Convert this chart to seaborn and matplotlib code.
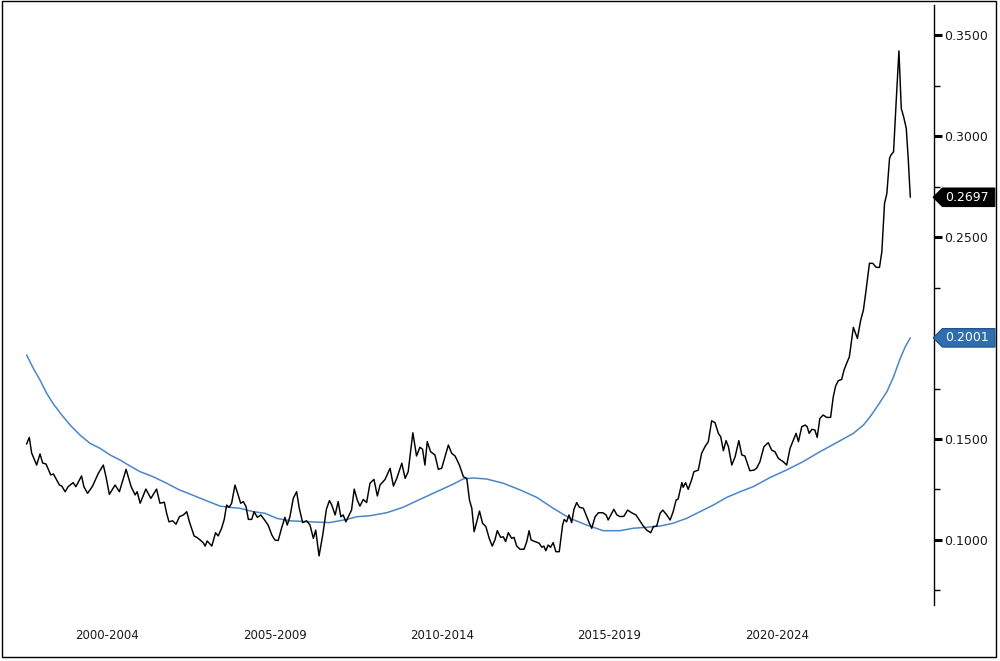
import pandas as pd
import seaborn as sns
from matplotlib import pyplot as plt
from matplotlib import transforms
from matplotlib.patches import Rectangle
from matplotlib.path import Path
from matplotlib.ticker import MultipleLocator, FormatStrFormatter

# black series, decimal years
black_years = [2000.10, 2000.18, 2000.25, 2000.40, 2000.50, 2000.58, 2000.68, 2000.82, 2000.90, 2001.08,
               2001.15, 2001.25, 2001.34, 2001.49, 2001.57, 2001.74, 2001.81, 2001.92, 2002.07, 2002.24,
               2002.39, 2002.47, 2002.57, 2002.74, 2002.87, 2003.07, 2003.22, 2003.34, 2003.40, 2003.49,
               2003.66, 2003.81, 2003.98, 2004.08, 2004.21, 2004.28, 2004.35, 2004.46, 2004.56, 2004.66,
               2004.78, 2004.88, 2004.96, 2005.10, 2005.18, 2005.28, 2005.37, 2005.43, 2005.49, 2005.63,
               2005.74, 2005.82, 2005.92, 2006.00, 2006.07, 2006.15, 2006.22, 2006.32, 2006.40, 2006.49,
               2006.57, 2006.65, 2006.72, 2006.82, 2006.89, 2006.99, 2007.09, 2007.19, 2007.31, 2007.42,
               2007.51, 2007.61, 2007.71, 2007.81, 2007.88, 2007.96, 2008.06, 2008.16, 2008.24, 2008.34,
               2008.46, 2008.56, 2008.66, 2008.73, 2008.83, 2008.94, 2009.05, 2009.14, 2009.21, 2009.31,
               2009.40, 2009.48, 2009.55, 2009.63, 2009.73, 2009.80, 2009.88, 2009.97, 2010.05, 2010.15,
               2010.25, 2010.35, 2010.47, 2010.57, 2010.65, 2010.80, 2010.95, 2011.05, 2011.15, 2011.30,
               2011.40, 2011.49, 2011.63, 2011.74, 2011.84, 2011.92, 2011.99, 2012.06, 2012.16, 2012.29,
               2012.39, 2012.49, 2012.59, 2012.69, 2012.79, 2012.89, 2013.02, 2013.14, 2013.24, 2013.32,
               2013.39, 2013.46, 2013.55, 2013.62, 2013.71, 2013.81, 2013.91, 2014.00, 2014.08, 2014.15,
               2014.25, 2014.33, 2014.40, 2014.48, 2014.58, 2014.65, 2014.73, 2014.83, 2014.95, 2015.03,
               2015.10, 2015.16, 2015.28, 2015.40, 2015.48, 2015.54, 2015.60, 2015.67, 2015.74, 2015.82,
               2015.90, 2016.00, 2016.10, 2016.15, 2016.22, 2016.29, 2016.37, 2016.44, 2016.52, 2016.60,
               2016.72, 2016.80, 2016.90, 2016.97, 2017.07, 2017.17, 2017.30, 2017.40, 2017.46, 2017.54,
               2017.63, 2017.72, 2017.81, 2017.93, 2018.04, 2018.16, 2018.29, 2018.39, 2018.51, 2018.61,
               2018.73, 2018.81, 2018.91, 2019.01, 2019.09, 2019.21, 2019.31, 2019.40, 2019.49, 2019.55,
               2019.66, 2019.70, 2019.77, 2019.85, 2019.95, 2020.02, 2020.15, 2020.25, 2020.35, 2020.45,
               2020.55, 2020.65, 2020.75, 2020.82, 2020.90, 2020.98, 2021.05, 2021.15, 2021.25, 2021.36,
               2021.45, 2021.54, 2021.69, 2021.81, 2021.89, 2021.99, 2022.11, 2022.24, 2022.34, 2022.44,
               2022.54, 2022.69, 2022.79, 2022.89, 2023.01, 2023.07, 2023.14, 2023.24, 2023.34, 2023.40,
               2023.46, 2023.54, 2023.63, 2023.70, 2023.78, 2023.88, 2023.98, 2024.10, 2024.18, 2024.25,
               2024.33, 2024.43, 2024.50, 2024.58, 2024.66, 2024.70, 2024.78, 2024.90, 2025.00, 2025.08,
               2025.16, 2025.26, 2025.36, 2025.46, 2025.56, 2025.63, 2025.71, 2025.78, 2025.86, 2025.90,
               2025.98, 2026.06, 2026.14, 2026.21, 2026.28, 2026.36, 2026.42, 2026.48]
black_values = [0.1475, 0.1508, 0.1431, 0.1371, 0.1426, 0.1381, 0.1376, 0.1322, 0.1327, 0.1272,
                0.1267, 0.1239, 0.1264, 0.1284, 0.1264, 0.1317, 0.1264, 0.1231, 0.1267, 0.1330,
                0.1371, 0.1313, 0.1226, 0.1272, 0.1239, 0.1350, 0.1264, 0.1223, 0.1239, 0.1182,
                0.1252, 0.1206, 0.1252, 0.1182, 0.1187, 0.1132, 0.1090, 0.1095, 0.1078, 0.1115,
                0.1124, 0.1140, 0.1090, 0.1020, 0.1013, 0.1000, 0.0987, 0.0970, 0.0995, 0.0970,
                0.1036, 0.1020, 0.1058, 0.1102, 0.1173, 0.1162, 0.1182, 0.1272, 0.1231, 0.1182,
                0.1190, 0.1165, 0.1102, 0.1102, 0.1140, 0.1112, 0.1124, 0.1102, 0.1074, 0.1025,
                0.1000, 0.0997, 0.1058, 0.1112, 0.1074, 0.1115, 0.1206, 0.1239, 0.1157, 0.1086,
                0.1095, 0.1074, 0.1008, 0.1049, 0.0921, 0.1025, 0.1153, 0.1195, 0.1173, 0.1124,
                0.1190, 0.1115, 0.1124, 0.1090, 0.1124, 0.1148, 0.1252, 0.1198, 0.1168, 0.1201,
                0.1185, 0.1281, 0.1300, 0.1218, 0.1272, 0.1300, 0.1355, 0.1267, 0.1305, 0.1380,
                0.1305, 0.1338, 0.1531, 0.1416, 0.1459, 0.1449, 0.1371, 0.1487, 0.1437, 0.1421,
                0.1350, 0.1355, 0.1412, 0.1470, 0.1429, 0.1416, 0.1371, 0.1313, 0.1305, 0.1198,
                0.1157, 0.1041, 0.1099, 0.1143, 0.1083, 0.1066, 0.1008, 0.0970, 0.1000, 0.1046,
                0.1013, 0.1016, 0.0992, 0.1036, 0.1008, 0.1013, 0.0970, 0.0954, 0.0954, 0.0992,
                0.1046, 0.1000, 0.0992, 0.0984, 0.0964, 0.0970, 0.0947, 0.0975, 0.0964, 0.0987,
                0.0942, 0.0942, 0.1074, 0.1102, 0.1090, 0.1124, 0.1086, 0.1152, 0.1185, 0.1162,
                0.1157, 0.1124, 0.1083, 0.1058, 0.1115, 0.1135, 0.1135, 0.1124, 0.1099, 0.1124,
                0.1152, 0.1124, 0.1116, 0.1117, 0.1148, 0.1135, 0.1124, 0.1099, 0.1069, 0.1049,
                0.1036, 0.1066, 0.1069, 0.1132, 0.1148, 0.1124, 0.1099, 0.1140, 0.1198, 0.1203,
                0.1284, 0.1261, 0.1284, 0.1251, 0.1297, 0.1338, 0.1346, 0.1429, 0.1462, 0.1487,
                0.1590, 0.1581, 0.1528, 0.1511, 0.1442, 0.1492, 0.1462, 0.1371, 0.1412, 0.1492,
                0.1421, 0.1416, 0.1343, 0.1346, 0.1355, 0.1387, 0.1462, 0.1482, 0.1445, 0.1437,
                0.1404, 0.1387, 0.1371, 0.1454, 0.1503, 0.1528, 0.1487, 0.1561, 0.1569, 0.1561,
                0.1528, 0.1548, 0.1545, 0.1508, 0.1602, 0.1619, 0.1607, 0.1607, 0.1709, 0.1762,
                0.1789, 0.1795, 0.1841, 0.1875, 0.1907, 0.1957, 0.2053, 0.1998, 0.2089, 0.2139,
                0.2238, 0.2370, 0.2370, 0.2350, 0.2350, 0.2427, 0.2667, 0.2716, 0.2890, 0.2906,
                0.2922, 0.3178, 0.3422, 0.3137, 0.3096, 0.3038, 0.2881, 0.2697]

# blue trend line
blue_years = [2000.10, 2000.30, 2000.50, 2000.70, 2000.90, 2001.15, 2001.40, 2001.69, 2001.99, 2002.29,
              2002.59, 2002.89, 2003.19, 2003.49, 2003.88, 2004.28, 2004.66, 2004.88, 2005.37, 2005.87,
              2006.12, 2006.47, 2006.87, 2007.22, 2007.57, 2007.96, 2008.56, 2009.14, 2009.66, 2009.95,
              2010.35, 2010.85, 2011.34, 2011.84, 2012.34, 2012.84, 2013.14, 2013.43, 2013.83, 2014.33,
              2014.83, 2015.33, 2015.82, 2016.32, 2016.82, 2017.31, 2017.81, 2018.21, 2018.61, 2019.01,
              2019.40, 2019.80, 2020.20, 2020.60, 2021.00, 2021.40, 2021.79, 2022.29, 2022.79, 2023.28,
              2023.78, 2024.28, 2024.78, 2025.08, 2025.28, 2025.52, 2025.78, 2025.98, 2026.18, 2026.33,
              2026.48]
blue_values = [0.1916, 0.1850, 0.1792, 0.1726, 0.1673, 0.1619, 0.1569, 0.1520, 0.1479, 0.1454,
               0.1421, 0.1396, 0.1366, 0.1338, 0.1313, 0.1281, 0.1248, 0.1234, 0.1201, 0.1168,
               0.1162, 0.1157, 0.1140, 0.1132, 0.1107, 0.1095, 0.1090, 0.1086, 0.1102, 0.1115,
               0.1120, 0.1135, 0.1162, 0.1201, 0.1239, 0.1277, 0.1303, 0.1307, 0.1302, 0.1281,
               0.1248, 0.1211, 0.1157, 0.1107, 0.1074, 0.1046, 0.1046, 0.1058, 0.1063, 0.1069,
               0.1083, 0.1107, 0.1140, 0.1173, 0.1211, 0.1239, 0.1264, 0.1309, 0.1347, 0.1388,
               0.1437, 0.1482, 0.1528, 0.1569, 0.1610, 0.1668, 0.1734, 0.1808, 0.1900, 0.1957,
               0.2001]

period_centers = [2002.5, 2007.5, 2012.5, 2017.5, 2022.5]
period_labels = ["2000-2004", "2005-2009", "2010-2014", "2015-2019", "2020-2024"]
period_edges = [2000, 2005, 2010, 2015, 2020, 2025]

last_black = "0.2697"
last_blue = "0.2001"


def tag_box(x0, y0, width, height, mutation_size):
    # flat box with a pointed left end, like the last-value tags on the axis
    pad = 0.22 * mutation_size
    left = x0 - pad
    right = x0 + width + 2.2 * pad
    bottom = y0 - pad
    top = y0 + height + pad
    tip = (top - bottom) * 0.5
    return Path([(left - tip, (top + bottom) / 2), (left, top), (right, top),
                 (right, bottom), (left, bottom), (left - tip, (top + bottom) / 2)],
                closed=True)


sns.set_style("white")
plt.rcParams['font.family'] = ['DejaVu Sans']

fig = plt.figure(figsize=(10, 6.61), dpi=100)
ax = fig.add_axes([0.005, 0.0847, 0.929, 0.9077])

df_black = pd.DataFrame({"year": black_years, "value": black_values})
df_blue = pd.DataFrame({"year": blue_years, "value": blue_values})

sns.lineplot(data=df_blue, x="year", y="value", color="#4A86C8", linewidth=1.1,
             estimator=None, sort=False, ax=ax)
sns.lineplot(data=df_black, x="year", y="value", color="black", linewidth=1.05,
             estimator=None, sort=False, ax=ax)

ax.set_xlim(1999.455, 2027.187)
ax.set_ylim(0.0678, 0.3649)
ax.set_xlabel("")
ax.set_ylabel("")

for side in ["left", "top", "bottom"]:
    ax.spines[side].set_visible(False)
ax.spines["right"].set_visible(True)
ax.spines["right"].set_color("black")
ax.spines["right"].set_linewidth(1.0)

ax.yaxis.tick_right()
ax.yaxis.set_major_locator(MultipleLocator(0.05))
ax.yaxis.set_minor_locator(MultipleLocator(0.025))
ax.yaxis.set_major_formatter(FormatStrFormatter("%.4f"))
ax.tick_params(axis="y", which="major", direction="out", length=6, width=2.2,
               color="black", labelsize=9, labelcolor="#1a1a1a", pad=1)
ax.tick_params(axis="y", which="minor", direction="out", length=4, width=1, color="black")

ax.set_xticks(period_centers)
ax.set_xticklabels(period_labels)
ax.set_xticks(period_edges, minor=True)
ax.tick_params(axis="x", which="major", length=0, pad=17, labelsize=8.5, labelcolor="#1a1a1a")
ax.tick_params(axis="x", which="minor", direction="out", length=34, width=0.8, color="#f0f0f0")

# last value tags on the right axis
trans = transforms.blended_transform_factory(ax.transAxes, ax.transData)
ax.text(1.012, black_values[-1], last_black, transform=trans, ha="left", va="center",
        color="white", fontsize=9, clip_on=False,
        bbox=dict(boxstyle=tag_box, fc="black", ec="black", lw=0.8))
ax.text(1.012, blue_values[-1], last_blue, transform=trans, ha="left", va="center",
        color="white", fontsize=9, clip_on=False,
        bbox=dict(boxstyle=tag_box, fc="#2E6DB0", ec="#1f4f86", lw=0.8))

# outer frame
fig.patches.append(Rectangle((0.0015, 0.006), 0.9945, 0.9925, transform=fig.transFigure,
                             fill=False, ec="black", lw=1.0))

fig.savefig("out.png", dpi=100)
